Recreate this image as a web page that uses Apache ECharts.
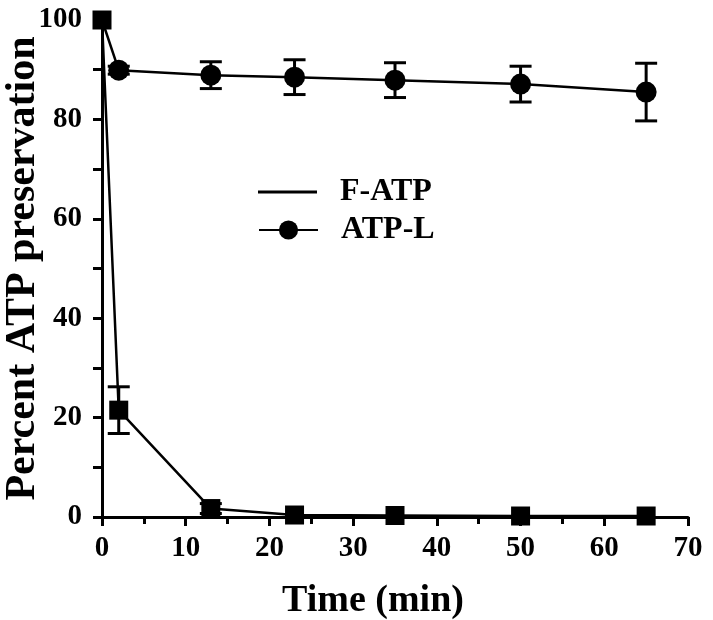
<!DOCTYPE html>
<html>
<head>
<meta charset="utf-8">
<script src="https://cdn.jsdelivr.net/npm/echarts@6/dist/echarts.min.js"></script>
<style>html,body{margin:0;padding:0;background:#fff;}#c{width:713px;height:620px;}</style>
</head>
<body>
<div id="c"></div>
<script>
const time = [0, 2, 13, 23, 35, 50, 65];
const fatp = [100, 21.5, 1.7, 0.4, 0.3, 0.2, 0.2];
const fatpErr = [0, 4.7, 1.0, 0, 0, 0, 0];
const atpl = [100, 89.9, 88.9, 88.5, 87.9, 87.1, 85.5];
const atplErr = [0, 0.8, 2.7, 3.5, 3.5, 3.6, 5.8];
const xTicks = [0, 10, 20, 30, 40, 50, 60, 70];
const yTicks = [0, 20, 40, 60, 80, 100];

const FONT = '"Liberation Serif", "Times New Roman", serif';

function errData(ys, es) {
  return time.map((t, i) => [t, ys[i], es[i]]);
}
function errRender(params, api) {
  const x = api.value(0), y = api.value(1), e = api.value(2);
  if (!e) return null;
  const top = api.coord([x, y + e]);
  const bot = api.coord([x, y - e]);
  const hw = 11;
  const st = { stroke: '#000', lineWidth: 3 };
  return {
    type: 'group',
    children: [
      { type: 'line', shape: { x1: top[0], y1: top[1], x2: bot[0], y2: bot[1] }, style: st },
      { type: 'line', shape: { x1: top[0] - hw, y1: top[1], x2: top[0] + hw, y2: top[1] }, style: st },
      { type: 'line', shape: { x1: bot[0] - hw, y1: bot[1], x2: bot[0] + hw, y2: bot[1] }, style: st }
    ]
  };
}

const chart = echarts.init(document.getElementById('c'), null, { renderer: 'canvas' });
const legendText = { fontFamily: FONT, fontWeight: 'bold', fontSize: 32, color: '#000', padding: [0, 0, 0, 18] };
chart.setOption({
  animation: false,
  backgroundColor: '#fff',
  grid: { left: 102, right: 25, top: 20, bottom: 103, containLabel: false, outerBoundsMode: 'none' },
  legend: [
    {
      data: [{ name: 'F-ATP', icon: 'rect' }],
      left: 253, top: 171, itemWidth: 59, itemHeight: 3,
      textStyle: legendText, selectedMode: false
    },
    {
      data: ['ATP-L'],
      left: 253, top: 209, itemWidth: 59, itemHeight: 24,
      textStyle: legendText, selectedMode: false
    }
  ],
  xAxis: {
    type: 'value', min: 0, max: 70, interval: 10,
    name: 'Time (min)', nameLocation: 'middle', nameGap: 65, nameMoveOverlap: false,
    nameTextStyle: { fontFamily: FONT, fontWeight: 'bold', fontSize: 38, color: '#000', padding: [0, 44, 0, 0] },
    axisLine: { show: true, lineStyle: { color: '#000', width: 3 } },
    axisTick: { show: true, inside: false, length: 9, lineStyle: { color: '#000', width: 3 } },
    minorTick: { show: true, splitNumber: 2, length: 7, lineStyle: { color: '#000', width: 3 } },
    axisLabel: {
      fontFamily: FONT, fontWeight: 'bold', fontSize: 29, color: '#000', margin: 17,
      formatter: v => xTicks.includes(v) ? String(v) : ''
    },
    splitLine: { show: false }
  },
  yAxis: {
    type: 'value', min: 0, max: 100, interval: 20,
    name: 'Percent ATP preservation', nameLocation: 'middle', nameGap: 58, nameMoveOverlap: false,
    nameTextStyle: { fontFamily: FONT, fontWeight: 'bold', fontSize: 42, color: '#000' },
    axisLine: { show: true, lineStyle: { color: '#000', width: 3 } },
    axisTick: { show: true, inside: false, length: 9, lineStyle: { color: '#000', width: 3 } },
    minorTick: { show: true, splitNumber: 2, length: 9, lineStyle: { color: '#000', width: 3 } },
    axisLabel: {
      fontFamily: FONT, fontWeight: 'bold', fontSize: 29, color: '#000', margin: 20,
      formatter: v => yTicks.includes(v) ? String(v) : ''
    },
    splitLine: { show: false }
  },
  series: [
    {
      name: 'ATP-L', type: 'line',
      data: time.map((t, i) => i === 0 ? { value: [t, atpl[i]], symbol: 'none' } : [t, atpl[i]]),
      symbol: 'circle', symbolSize: 21,
      lineStyle: { color: '#000', width: 2.5 },
      itemStyle: { color: '#000' },
      z: 3
    },
    {
      name: 'F-ATP', type: 'line',
      data: time.map((t, i) => [t, fatp[i]]),
      symbol: 'rect', symbolSize: 19,
      lineStyle: { color: '#000', width: 2.5 },
      itemStyle: { color: '#000' },
      z: 4
    },
    {
      type: 'custom', name: 'errA', data: errData(atpl, atplErr), renderItem: errRender, z: 2, silent: true
    },
    {
      type: 'custom', name: 'errF', data: errData(fatp, fatpErr), renderItem: errRender, z: 2, silent: true
    }
  ]
});
</script>
</body>
</html>
